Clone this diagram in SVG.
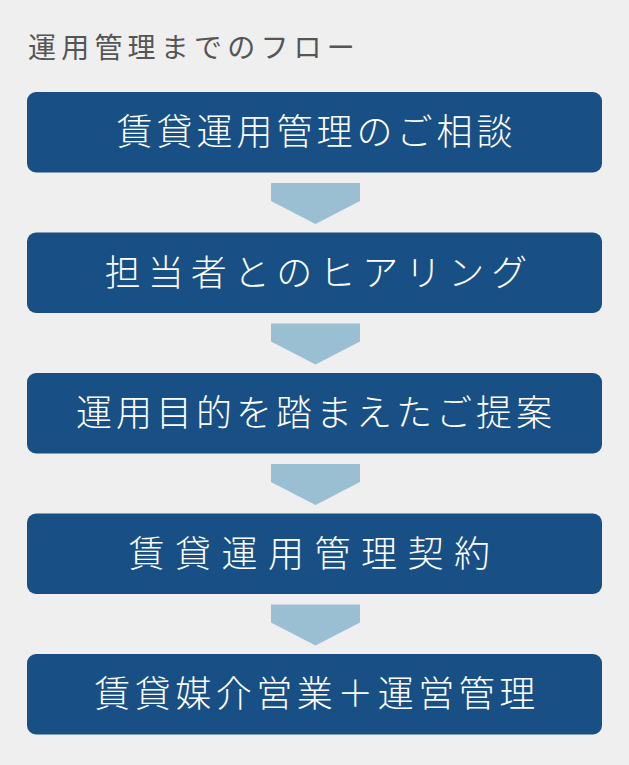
<svg xmlns="http://www.w3.org/2000/svg" width="629" height="765" viewBox="0 0 629 765">
<style>
.box{fill:#184f85}
.arr{fill:#9bbfd2}
.t{font-family:"Noto Sans CJK JP","Noto Sans CJK SC",sans-serif;font-size:36px;fill:#ffffff;text-anchor:middle;font-weight:300}
.title{font-family:"Noto Sans CJK JP","Noto Sans CJK SC",sans-serif;font-size:28px;fill:#555555;letter-spacing:5.2px}
</style>
<rect width="629" height="765" fill="#efefef"/>
<text class="title" x="28" y="58">運用管理までのフロー</text>
<g id="connectors">
<polygon class="arr" points="271,183 360,183 360,201 315.5,224 271,201"/>
<polygon class="arr" points="271,323.5 360,323.5 360,341.5 315.5,364.5 271,341.5"/>
<polygon class="arr" points="271,464 360,464 360,482 315.5,505 271,482"/>
<polygon class="arr" points="271,604.5 360,604.5 360,622.5 315.5,645.5 271,622.5"/>
</g>
<g id="node1"><rect class="box" x="27" y="92" width="575" height="80.5" rx="9"/><text class="t" x="316.5" y="145" style="letter-spacing:4px">賃貸運用管理のご相談</text></g>
<g id="node2"><rect class="box" x="27" y="232.5" width="575" height="80.5" rx="9"/><text class="t" x="319.5" y="285.5" style="letter-spacing:7px">担当者とのヒアリング</text></g>
<g id="node3"><rect class="box" x="27" y="373" width="575" height="80.5" rx="9"/><text class="t" x="316" y="426" style="letter-spacing:4px">運用目的を踏まえたご提案</text></g>
<g id="node4"><rect class="box" x="27" y="513.5" width="575" height="80.5" rx="9"/><text class="t" x="314.5" y="566.5" style="letter-spacing:10.5px">賃貸運用管理契約</text></g>
<g id="node5"><rect class="box" x="27" y="654" width="575" height="80.5" rx="9"/><text class="t" x="317" y="707" style="letter-spacing:4.5px">賃貸媒介営業＋運営管理</text></g>
</svg>
